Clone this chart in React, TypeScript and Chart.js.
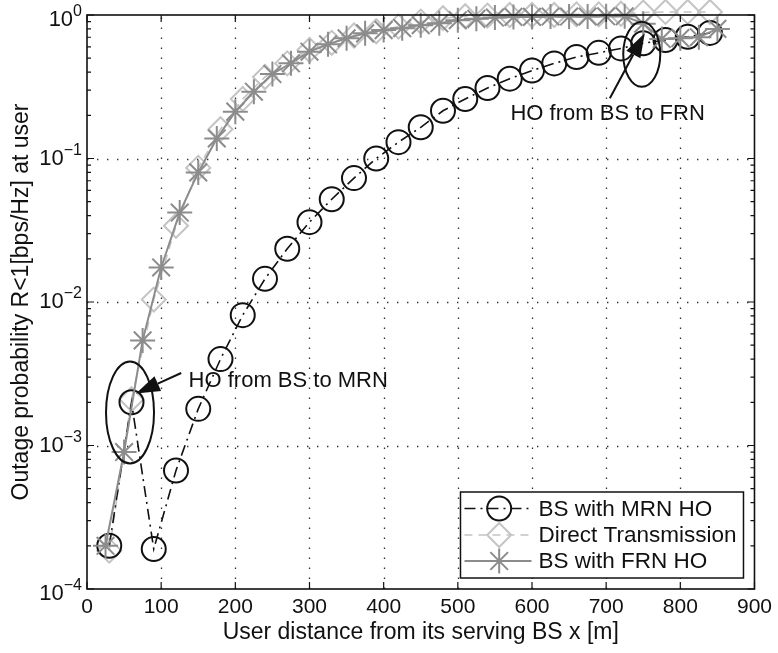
import React, { useEffect, useRef } from "react";
import { Chart, registerables } from "chart.js";

Chart.register(...registerables);

// ---------- data ----------
const mrnX = [30, 60, 90, 120, 150, 180, 210, 240, 270, 300, 330, 360, 390, 420, 450, 480, 510, 540, 570, 600, 630, 660, 690, 720, 750, 780, 810, 840];
const mrnY = [2.0e-4, 2.0e-3, 1.9e-4, 6.7e-4, 1.8e-3, 4.0e-3, 8.1e-3, 1.45e-2, 2.35e-2, 3.6e-2, 5.2e-2, 7.3e-2, 0.1, 0.13, 0.165, 0.215, 0.26, 0.31, 0.36, 0.41, 0.46, 0.51, 0.545, 0.585, 0.635, 0.67, 0.705, 0.75];

const directX = [30, 60, 90, 120, 150, 180, 210, 240, 270, 300, 330, 360, 390, 420, 450, 480, 510, 540, 570, 600, 630, 660, 690, 720, 750, 780, 810, 840];
const directY = [1.85e-4, 2.1e-3, 1.04e-2, 3.4e-2, 8.6e-2, 0.16, 0.26, 0.37, 0.46, 0.57, 0.64, 0.72, 0.77, 0.83, 0.9, 0.95, 0.98, 0.99, 1.0, 1.0, 1.0, 1.01, 1.01, 1.02, 1.04, 1.05, 1.05, 1.05];

const frnX = [25, 50, 75, 100, 125, 150, 175, 200, 225, 250, 275, 300, 325, 350, 375, 400, 425, 450, 475, 500, 525, 550, 575, 600, 625, 650, 675, 700, 725, 750, 775, 800, 825, 850];
const frnY = [2.0e-4, 9.0e-4, 5.4e-3, 1.74e-2, 4.2e-2, 8.0e-2, 0.138, 0.212, 0.292, 0.388, 0.461, 0.555, 0.625, 0.688, 0.745, 0.785, 0.81, 0.85, 0.875, 0.92, 0.94, 0.96, 0.97, 0.97, 0.975, 0.975, 0.975, 0.98, 0.98, 0.87, 0.68, 0.69, 0.7, 0.8];

const seriesNames = ["BS with MRN HO", "Direct Transmission", "BS with FRN HO"];
const xTicks = [0, 100, 200, 300, 400, 500, 600, 700, 800, 900];
const yDecades = [1e-4, 1e-3, 1e-2, 1e-1, 1];
const yExponents = ["\u22124", "\u22123", "\u22122", "\u22121", "0"];
const xTitle = "User distance from its serving BS x [m]";
const yTitle = "Outage probability R<1[bps/Hz] at user";

// annotation anchors in data space
const notes = [
  { text: "HO from BS to MRN", textX: 137, textY: 2.83e-3, tailX: 127, tailY: 3.2e-3, tipX: 66, tipY: 2.3e-3, ellX: 58, ellY: 1.7e-3, rx: 24, ry: 51 },
  { text: "HO from BS to FRN", textX: 571, textY: 0.205, tailX: 705, tailY: 0.263, tipX: 752, tipY: 0.746, ellX: 748, ellY: 0.533, rx: 18.5, ry: 32.5 },
];

const FONT = "'Liberation Sans', Arial, Helvetica, sans-serif";
const TXT = "#111111";
const C_MRN = "#111111";
const C_DIR = "#c4c4c4";
const C_FRN = "#8c8c8c";
const DASH_MRN = [11, 5, 2, 5];
const DASH_DIR = [8, 6];

function pts(xs: number[], ys: number[]) {
  return xs.map((x, i) => ({ x, y: ys[i] }));
}

function drawMarker(ctx: CanvasRenderingContext2D, style: string, x: number, y: number, r: number) {
  ctx.beginPath();
  if (style === "circle") {
    ctx.arc(x, y, r, 0, Math.PI * 2);
  } else if (style === "rectRot") {
    ctx.moveTo(x, y - r);
    ctx.lineTo(x + r, y);
    ctx.lineTo(x, y + r);
    ctx.lineTo(x - r, y);
    ctx.closePath();
  } else {
    const d = r * Math.SQRT1_2;
    ctx.moveTo(x - r, y); ctx.lineTo(x + r, y);
    ctx.moveTo(x, y - r); ctx.lineTo(x, y + r);
    ctx.moveTo(x - d, y - d); ctx.lineTo(x + d, y + d);
    ctx.moveTo(x - d, y + d); ctx.lineTo(x + d, y - d);
  }
  ctx.stroke();
}

const decor = {
  id: "decor",
  beforeDatasetsDraw(chart: any) {
    const { ctx, chartArea: a, scales } = chart;
    const xs = scales.x, ys = scales.y;
    ctx.save();
    ctx.strokeStyle = "#303030";
    ctx.lineWidth = 1.3;
    ctx.setLineDash([1.4, 8.6]);
    for (const t of xTicks) {
      if (t <= xs.min || t >= xs.max) continue;
      const px = Math.round(xs.getPixelForValue(t)) + 0.5;
      ctx.beginPath(); ctx.moveTo(px, a.bottom); ctx.lineTo(px, a.top); ctx.stroke();
    }
    for (const d of yDecades) {
      if (d <= ys.min || d >= ys.max) continue;
      const py = Math.round(ys.getPixelForValue(d)) + 0.5;
      ctx.beginPath(); ctx.moveTo(a.left, py); ctx.lineTo(a.right, py); ctx.stroke();
    }
    ctx.restore();
  },
  afterDatasetsDraw(chart: any) {
    const { ctx, chartArea: a, scales } = chart;
    const xs = scales.x, ys = scales.y;
    ctx.save();
    // axes box
    ctx.strokeStyle = "#111";
    ctx.lineWidth = 1.6;
    ctx.setLineDash([]);
    ctx.strokeRect(a.left, a.top, a.right - a.left, a.bottom - a.top);
    // ticks
    ctx.lineWidth = 1.2;
    const major = 7, minor = 4;
    for (const t of xTicks) {
      const px = xs.getPixelForValue(t);
      ctx.beginPath();
      ctx.moveTo(px, a.bottom); ctx.lineTo(px, a.bottom - major);
      ctx.moveTo(px, a.top); ctx.lineTo(px, a.top + major);
      ctx.stroke();
    }
    for (let i = 0; i < yDecades.length; i++) {
      const d = yDecades[i];
      const py = ys.getPixelForValue(d);
      ctx.beginPath();
      ctx.moveTo(a.left, py); ctx.lineTo(a.left + major, py);
      ctx.moveTo(a.right, py); ctx.lineTo(a.right - major, py);
      ctx.stroke();
      if (i < yDecades.length - 1) {
        for (let k = 2; k <= 9; k++) {
          const pm = ys.getPixelForValue(d * k);
          ctx.beginPath();
          ctx.moveTo(a.left, pm); ctx.lineTo(a.left + minor, pm);
          ctx.moveTo(a.right, pm); ctx.lineTo(a.right - minor, pm);
          ctx.stroke();
        }
      }
    }
    // y tick labels 10^n
    ctx.fillStyle = TXT;
    ctx.textBaseline = "middle";
    for (let i = 0; i < yDecades.length; i++) {
      const d = yDecades[i];
      const py = ys.getPixelForValue(d);
      const shift = d === ys.min || d === ys.max ? 5 : 0;
      const rightEdge = a.left - 5;
      ctx.font = `16px ${FONT}`;
      const ew = ctx.measureText(yExponents[i]).width;
      ctx.textAlign = "left";
      ctx.fillText(yExponents[i], rightEdge - ew, py + shift - 8);
      ctx.font = `22px ${FONT}`;
      ctx.textAlign = "right";
      ctx.fillText("10", rightEdge - ew, py + shift);
    }
    // axis titles
    ctx.font = `23px ${FONT}`;
    ctx.textAlign = "center";
    ctx.fillText(xTitle, (a.left + a.right) / 2, a.bottom + 44);
    ctx.save();
    ctx.translate(22, (a.top + a.bottom) / 2);
    ctx.rotate(-Math.PI / 2);
    ctx.fillText(yTitle, 0, 0);
    ctx.restore();

    // annotations
    for (const n of notes) {
      const ex = xs.getPixelForValue(n.ellX), ey = ys.getPixelForValue(n.ellY);
      ctx.strokeStyle = "#111";
      ctx.lineWidth = 2;
      ctx.beginPath();
      ctx.ellipse(ex, ey, n.rx, n.ry, 0, 0, Math.PI * 2);
      ctx.stroke();
      const tx = xs.getPixelForValue(n.tailX), ty = ys.getPixelForValue(n.tailY);
      const hx = xs.getPixelForValue(n.tipX), hy = ys.getPixelForValue(n.tipY);
      const ang = Math.atan2(hy - ty, hx - tx);
      const hl = 24, hw = 8;
      const bx = hx - hl * Math.cos(ang), by = hy - hl * Math.sin(ang);
      ctx.lineWidth = 2;
      ctx.beginPath(); ctx.moveTo(tx, ty); ctx.lineTo(bx, by); ctx.stroke();
      ctx.fillStyle = "#111";
      ctx.beginPath();
      ctx.moveTo(hx, hy);
      ctx.lineTo(bx + hw * Math.sin(ang), by - hw * Math.cos(ang));
      ctx.lineTo(bx - hw * Math.sin(ang), by + hw * Math.cos(ang));
      ctx.closePath();
      ctx.fill();
      ctx.fillStyle = TXT;
      ctx.font = `22px ${FONT}`;
      ctx.textAlign = "left";
      ctx.textBaseline = "middle";
      ctx.fillText(n.text, xs.getPixelForValue(n.textX), ys.getPixelForValue(n.textY));
    }

    // legend
    const lw = 283, lh = 86;
    const lx = a.right - 11 - lw, ly = a.bottom - 11 - lh;
    ctx.fillStyle = "#ffffff";
    ctx.fillRect(lx, ly, lw, lh);
    ctx.strokeStyle = "#111";
    ctx.lineWidth = 1.5;
    ctx.setLineDash([]);
    ctx.strokeRect(lx, ly, lw, lh);
    const rows = [16.5, 43, 69];
    chart.data.datasets.forEach((ds: any, i: number) => {
      const ry = ly + rows[i];
      ctx.strokeStyle = ds.borderColor;
      ctx.lineWidth = ds.borderWidth;
      ctx.setLineDash(ds.borderDash || []);
      ctx.beginPath(); ctx.moveTo(lx + 4, ry); ctx.lineTo(lx + 71, ry); ctx.stroke();
      ctx.setLineDash([]);
      ctx.lineWidth = ds.pointBorderWidth;
      ctx.strokeStyle = ds.pointBorderColor;
      drawMarker(ctx, ds.pointStyle, lx + 38.7, ry, ds.pointRadius);
      ctx.fillStyle = TXT;
      ctx.font = `22.5px ${FONT}`;
      ctx.textAlign = "left";
      ctx.textBaseline = "middle";
      ctx.fillText(ds.label, lx + 78, ry + 1);
    });
    ctx.restore();
  },
};

export default function App() {
  const ref = useRef<HTMLCanvasElement | null>(null);
  useEffect(() => {
    if (!ref.current) return;
    const chart = new Chart(ref.current, {
      type: "line",
      data: {
        datasets: [
          {
            label: seriesNames[0],
            data: pts(mrnX, mrnY),
            borderColor: C_MRN,
            borderWidth: 1.6,
            borderDash: DASH_MRN,
            pointStyle: "circle",
            pointRadius: 12,
            pointBorderWidth: 2,
            pointBorderColor: C_MRN,
            pointBackgroundColor: "rgba(0,0,0,0)",
            backgroundColor: "rgba(0,0,0,0)",
            fill: false,
            tension: 0,
            clip: false,
            order: 1,
          },
          {
            label: seriesNames[1],
            data: pts(directX, directY),
            borderColor: C_DIR,
            borderWidth: 1.6,
            borderDash: DASH_DIR,
            pointStyle: "rectRot",
            pointRadius: 12,
            pointBorderWidth: 2,
            pointBorderColor: C_DIR,
            pointBackgroundColor: "rgba(0,0,0,0)",
            backgroundColor: "rgba(0,0,0,0)",
            fill: false,
            tension: 0,
            clip: false,
            order: 2,
          },
          {
            label: seriesNames[2],
            data: pts(frnX, frnY),
            borderColor: C_FRN,
            borderWidth: 2,
            pointStyle: "star",
            pointRadius: 12.5,
            pointBorderWidth: 2,
            pointBorderColor: C_FRN,
            pointBackgroundColor: "rgba(0,0,0,0)",
            backgroundColor: "rgba(0,0,0,0)",
            fill: false,
            tension: 0,
            clip: false,
            order: 0,
          },
        ] as any,
      },
      options: {
        animation: false,
        responsive: false,
        devicePixelRatio: 1,
        events: [],
        layout: { padding: { top: 15, right: 19, left: 0, bottom: 0 } },
        plugins: { legend: { display: false }, tooltip: { enabled: false } },
        scales: {
          x: {
            type: "linear",
            min: 0,
            max: 900,
            grid: { display: false, drawTicks: false },
            border: { display: false },
            ticks: {
              stepSize: 100,
              padding: 6,
              color: TXT,
              font: { size: 21, family: FONT },
              maxRotation: 0,
            },
            afterFit: (s: any) => { s.height = 64; },
          },
          y: {
            type: "logarithmic",
            min: 1e-4,
            max: 1,
            grid: { display: false, drawTicks: false },
            border: { display: false },
            ticks: { display: false },
            afterFit: (s: any) => { s.width = 87; },
          },
        },
      } as any,
      plugins: [decor],
    });
    return () => chart.destroy();
  }, []);
  return (
    <div style={{ position: "fixed", left: 0, top: 0, width: 778, height: 653, background: "#fff" }}>
      <canvas ref={ref} width={778} height={653} style={{ width: 778, height: 653, display: "block" }} />
    </div>
  );
}
